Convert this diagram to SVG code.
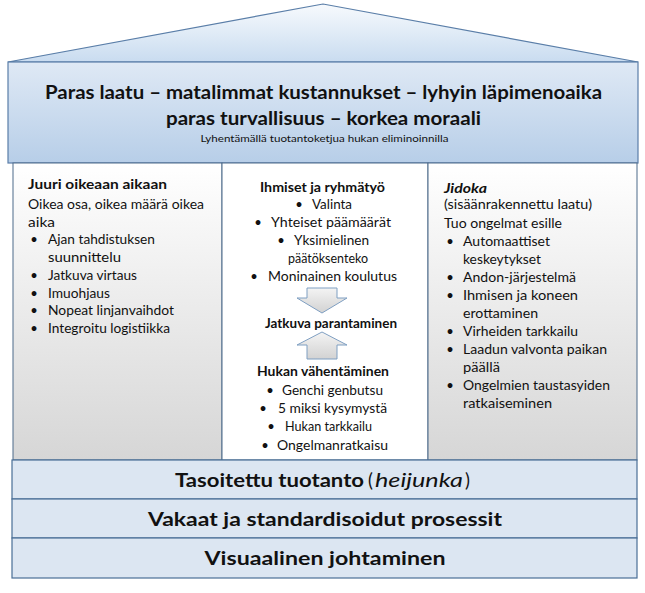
<svg xmlns="http://www.w3.org/2000/svg" width="645" height="593" viewBox="0 0 645 593">
<defs>
<linearGradient id="gRoof" x1="0" y1="0" x2="0" y2="1"><stop offset="0" stop-color="#f7fafd"/><stop offset="1" stop-color="#c9dcf0"/></linearGradient>
<linearGradient id="gHead" x1="0" y1="0" x2="0" y2="1"><stop offset="0" stop-color="#dfe9f5"/><stop offset="1" stop-color="#b7cee8"/></linearGradient>
<linearGradient id="gCol" x1="0" y1="0" x2="0" y2="1"><stop offset="0" stop-color="#ffffff"/><stop offset="1" stop-color="#d6d6d6"/></linearGradient>
<linearGradient id="gArrow" x1="0" y1="0" x2="0" y2="1"><stop offset="0" stop-color="#f4f4f4"/><stop offset="1" stop-color="#d2d2d2"/></linearGradient>
<style>
text{font-family:Lato,"Liberation Sans",sans-serif;fill:#111;}
.b{font-size:13px;}
.bb{font-size:13px;font-weight:bold;}
.bar{fill:#dce6f2;stroke:#4a6f97;stroke-width:1.2;}
.col{stroke:#4d6a8a;stroke-width:1;}
.bt{font-size:18.5px;font-weight:bold;}
.arr{fill:url(#gArrow);stroke:#7f9fc2;stroke-width:1;}
</style>
</defs>
<g id="roof">
<polygon points="8,62 323,4 638,62" fill="url(#gRoof)" stroke="#5a7ea8" stroke-width="1.2"/>
</g>
<g id="header">
<rect x="8" y="62" width="630" height="101" fill="url(#gHead)" stroke="#5a7ea8" stroke-width="1.2"/>
<text x="323.5" y="99" text-anchor="middle" font-size="19.5" font-weight="bold" textLength="557" lengthAdjust="spacingAndGlyphs">Paras laatu – matalimmat kustannukset – lyhyin läpimenoaika</text>
<text x="323.5" y="125" text-anchor="middle" font-size="19.5" font-weight="bold" textLength="315" lengthAdjust="spacingAndGlyphs">paras turvallisuus – korkea moraali</text>
<text x="324.5" y="142" text-anchor="middle" font-size="10" textLength="248" lengthAdjust="spacingAndGlyphs">Lyhentämällä tuotantoketjua hukan eliminoinnilla</text>
</g>
<g id="col-left">
<rect class="col" x="13" y="163" width="209" height="297" fill="url(#gCol)"/>
<text class="bb" x="28" y="189" textLength="139" lengthAdjust="spacingAndGlyphs">Juuri oikeaan aikaan</text>
<text class="b" x="28" y="209" textLength="176" lengthAdjust="spacingAndGlyphs">Oikea osa, oikea määrä oikea</text>
<text class="b" x="28" y="227" textLength="27" lengthAdjust="spacingAndGlyphs">aika</text>
<text class="b" x="34" y="244" text-anchor="middle">•</text>
<text class="b" x="48" y="244" textLength="107" lengthAdjust="spacingAndGlyphs">Ajan tahdistuksen</text>
<text class="b" x="48" y="262" textLength="73" lengthAdjust="spacingAndGlyphs">suunnittelu</text>
<text class="b" x="34" y="280" text-anchor="middle">•</text>
<text class="b" x="48" y="280" textLength="89" lengthAdjust="spacingAndGlyphs">Jatkuva virtaus</text>
<text class="b" x="34" y="298" text-anchor="middle">•</text>
<text class="b" x="48" y="298" textLength="62" lengthAdjust="spacingAndGlyphs">Imuohjaus</text>
<text class="b" x="34" y="315" text-anchor="middle">•</text>
<text class="b" x="48" y="315" textLength="126" lengthAdjust="spacingAndGlyphs">Nopeat linjanvaihdot</text>
<text class="b" x="34" y="333" text-anchor="middle">•</text>
<text class="b" x="48" y="333" textLength="122" lengthAdjust="spacingAndGlyphs">Integroitu logistiikka</text>
</g>
<g id="col-middle">
<rect class="col" x="222" y="163" width="206" height="297" fill="#ffffff"/>
<text class="bb" x="260" y="192" textLength="125" lengthAdjust="spacingAndGlyphs">Ihmiset ja ryhmätyö</text>
<text class="b" x="299" y="209" text-anchor="middle">•</text>
<text class="b" x="312" y="209" textLength="40" lengthAdjust="spacingAndGlyphs">Valinta</text>
<text class="b" x="258" y="227" text-anchor="middle">•</text>
<text class="b" x="271" y="227" textLength="120" lengthAdjust="spacingAndGlyphs">Yhteiset päämäärät</text>
<text class="b" x="281" y="245" text-anchor="middle">•</text>
<text class="b" x="294" y="245" textLength="75" lengthAdjust="spacingAndGlyphs">Yksimielinen</text>
<text class="b" x="288" y="263" textLength="80" lengthAdjust="spacingAndGlyphs">päätöksenteko</text>
<text class="b" x="254" y="281" text-anchor="middle">•</text>
<text class="b" x="268" y="281" textLength="129" lengthAdjust="spacingAndGlyphs">Moninainen koulutus</text>
<text class="bb" x="265" y="328" textLength="132" lengthAdjust="spacingAndGlyphs">Jatkuva parantaminen</text>
<text class="bb" x="257" y="376" textLength="132" lengthAdjust="spacingAndGlyphs">Hukan vähentäminen</text>
<text class="b" x="270" y="395" text-anchor="middle">•</text>
<text class="b" x="282" y="395" textLength="101" lengthAdjust="spacingAndGlyphs">Genchi genbutsu</text>
<text class="b" x="263" y="413" text-anchor="middle">•</text>
<text class="b" x="278" y="413" textLength="109" lengthAdjust="spacingAndGlyphs">5 miksi kysymystä</text>
<text class="b" x="271" y="431" text-anchor="middle">•</text>
<text class="b" x="285" y="431" textLength="87" lengthAdjust="spacingAndGlyphs">Hukan tarkkailu</text>
<text class="b" x="265" y="450" text-anchor="middle">•</text>
<text class="b" x="277" y="450" textLength="111" lengthAdjust="spacingAndGlyphs">Ongelmanratkaisu</text>
</g>
<g id="col-right">
<rect class="col" x="428" y="163" width="209" height="297" fill="url(#gCol)"/>
<text class="bb" x="444" y="193" font-style="italic" textLength="43" lengthAdjust="spacingAndGlyphs">Jidoka</text>
<text class="b" x="444" y="209" textLength="148" lengthAdjust="spacingAndGlyphs">(sisäänrakennettu laatu)</text>
<text class="b" x="444" y="228" textLength="118" lengthAdjust="spacingAndGlyphs">Tuo ongelmat esille</text>
<text class="b" x="450" y="246" text-anchor="middle">•</text>
<text class="b" x="463" y="246" textLength="87" lengthAdjust="spacingAndGlyphs">Automaattiset</text>
<text class="b" x="463" y="264" textLength="78" lengthAdjust="spacingAndGlyphs">keskeytykset</text>
<text class="b" x="450" y="282" text-anchor="middle">•</text>
<text class="b" x="463" y="282" textLength="113" lengthAdjust="spacingAndGlyphs">Andon-järjestelmä</text>
<text class="b" x="450" y="300" text-anchor="middle">•</text>
<text class="b" x="463" y="300" textLength="115" lengthAdjust="spacingAndGlyphs">Ihmisen ja koneen</text>
<text class="b" x="463" y="318" textLength="75" lengthAdjust="spacingAndGlyphs">erottaminen</text>
<text class="b" x="450" y="336" text-anchor="middle">•</text>
<text class="b" x="463" y="336" textLength="115" lengthAdjust="spacingAndGlyphs">Virheiden tarkkailu</text>
<text class="b" x="450" y="354" text-anchor="middle">•</text>
<text class="b" x="463" y="354" textLength="144" lengthAdjust="spacingAndGlyphs">Laadun valvonta paikan</text>
<text class="b" x="463" y="372" textLength="37" lengthAdjust="spacingAndGlyphs">päällä</text>
<text class="b" x="450" y="390" text-anchor="middle">•</text>
<text class="b" x="463" y="390" textLength="147" lengthAdjust="spacingAndGlyphs">Ongelmien taustasyiden</text>
<text class="b" x="463" y="408" textLength="89" lengthAdjust="spacingAndGlyphs">ratkaiseminen</text>
</g>
<g id="connectors">
<polygon class="arr" points="307,288 337,288 337,298 347,298 322,313 297,298 307,298"/>
<polygon class="arr" points="322,332 347,345 337,345 337,359 307,359 307,345 297,345"/>
</g>
<g id="bar-heijunka">
<rect class="bar" x="12" y="460" width="625" height="39"/>
<text class="bt" x="175" y="487" textLength="189" lengthAdjust="spacingAndGlyphs">Tasoitettu tuotanto</text>
<text x="368" y="487" font-size="18.5">(</text>
<text x="375" y="487" font-size="18.5" font-style="italic" textLength="88" lengthAdjust="spacingAndGlyphs">heijunka</text>
<text x="465" y="487" font-size="18.5">)</text>
</g>
<g id="bar-standard">
<rect class="bar" x="12" y="499" width="625" height="39"/>
<text class="bt" x="325" y="526" text-anchor="middle" textLength="354" lengthAdjust="spacingAndGlyphs">Vakaat ja standardisoidut prosessit</text>
</g>
<g id="bar-visual">
<rect class="bar" x="12" y="538" width="625" height="40"/>
<text class="bt" x="325" y="565" text-anchor="middle" textLength="241" lengthAdjust="spacingAndGlyphs">Visuaalinen johtaminen</text>
</g>
</svg>
